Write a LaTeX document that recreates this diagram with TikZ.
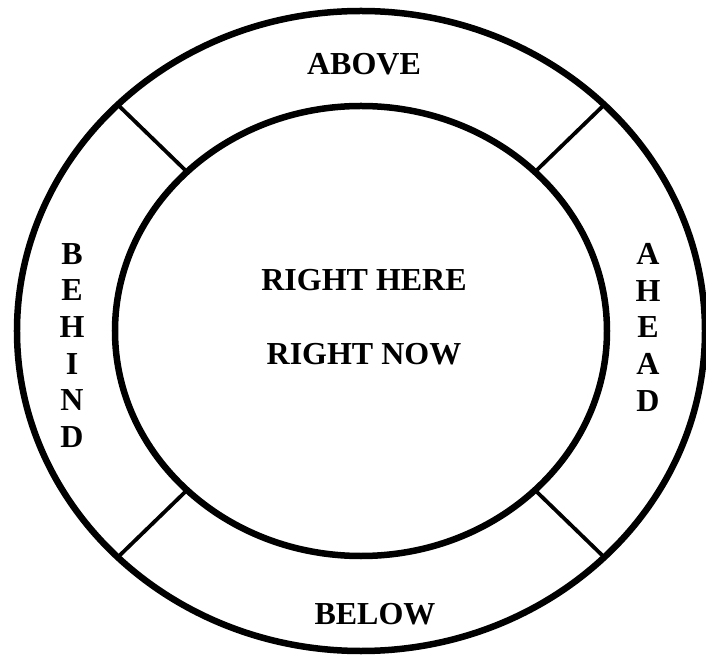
\documentclass[tikz,border=0pt]{standalone}
\usepackage{fontspec}
\setmainfont{Liberation Serif}
\usepackage{tikz}
\usetikzlibrary{positioning, calc}

\begin{document}
\begin{tikzpicture}[
            x=1pt, y=1pt,
            ring/.style={draw=black, line width=6.5pt},
            divider/.style={draw=black, line width=3.8pt},
            word/.style={font=\fontsize{32}{36.7}\selectfont\bfseries, inner sep=0pt, align=center}
        ]
            \useasboundingbox (-361,-327) rectangle (345,331);
            \coordinate (centre) at (0,0);

            \draw[ring] (centre) ellipse [x radius=344, y radius=320];
            \draw[ring] (centre) ellipse [x radius=246, y radius=225];

            \coordinate (outerNW) at (135:344 and 320);
            \coordinate (innerNW) at (135:246 and 225);
            \coordinate (outerNE) at (45:344 and 320);
            \coordinate (innerNE) at (45:246 and 225);
            \coordinate (outerSW) at (225:344 and 320);
            \coordinate (innerSW) at (225:246 and 225);
            \coordinate (outerSE) at (315:344 and 320);
            \coordinate (innerSE) at (315:246 and 225);

            \draw[divider] (outerNW) -- (innerNW);
            \draw[divider] (outerNE) -- (innerNE);
            \draw[divider] (outerSW) -- (innerSW);
            \draw[divider] (outerSE) -- (innerSE);

            \node[word] (above) at (3,267) {ABOVE};
            \node[word] (below) at (14,-283) {BELOW};
            \node[word] (here) at (3,51) {RIGHT HERE};
            \node[word] (now) at (3,-23) {RIGHT NOW};
            \node[word, anchor=north] (behind) at (-289,88) {B\\E\\H\\I\\N\\D};
            \node[word, anchor=north] (ahead) at (287,88) {A\\H\\E\\A\\D};
        \end{tikzpicture}
\end{document}
